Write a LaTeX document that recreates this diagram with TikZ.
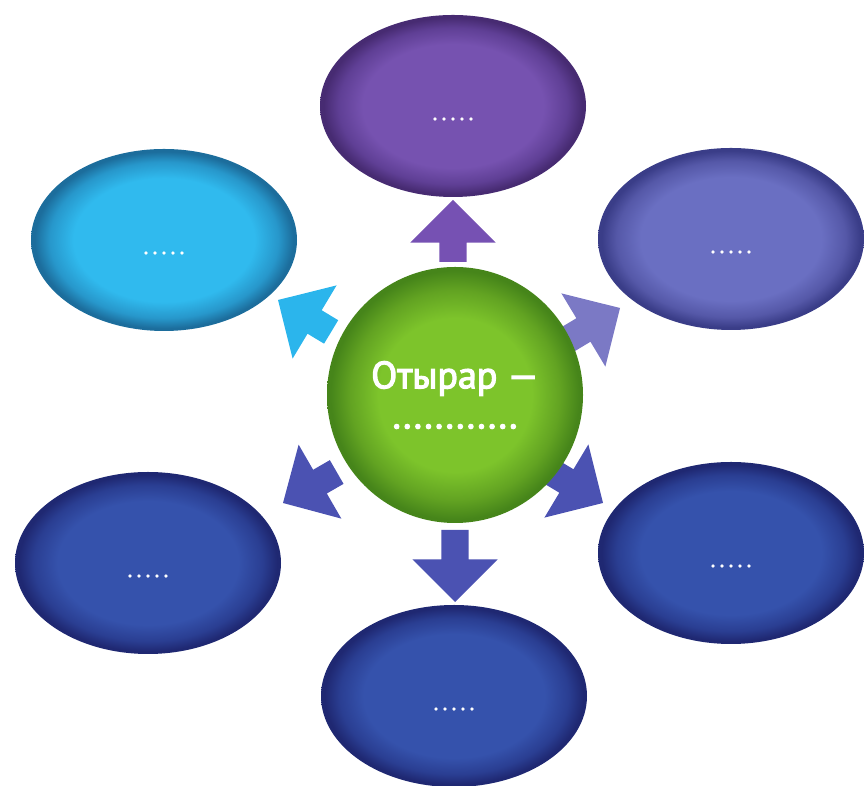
\documentclass[tikz,border=0pt]{standalone}
\usepackage{fontspec}
\setmainfont{PT Sans}
\usetikzlibrary{shapes.geometric,shapes.arrows}

\definecolor{cyanM}{HTML}{30BAEE}
\definecolor{cyanH}{HTML}{2797CB}
\definecolor{cyanD}{HTML}{1C6D9C}
\definecolor{purpM}{HTML}{7652B0}
\definecolor{purpH}{HTML}{5F3F95}
\definecolor{purpD}{HTML}{472B72}
\definecolor{lavM}{HTML}{6A6FC2}
\definecolor{lavH}{HTML}{5558A8}
\definecolor{lavD}{HTML}{3A3D88}
\definecolor{bluM}{HTML}{3552AC}
\definecolor{bluH}{HTML}{2A3E92}
\definecolor{bluD}{HTML}{1F2872}
\definecolor{grnM}{HTML}{7DC42B}
\definecolor{grnH}{HTML}{62A322}
\definecolor{grnD}{HTML}{46851A}
\definecolor{arrPurp}{HTML}{7651B3}
\definecolor{arrCyan}{HTML}{2BB5EC}
\definecolor{arrLav}{HTML}{7B79C5}
\definecolor{arrBlue}{HTML}{4B52B2}

\pgfdeclareradialshading{shcyan}{\pgfpoint{0bp}{0bp}}{color(0bp)=(cyanM); color(17bp)=(cyanM); color(21.5bp)=(cyanH); color(24.3bp)=(cyanD); color(50bp)=(cyanD)}
\pgfdeclareradialshading{shpurp}{\pgfpoint{0bp}{0bp}}{color(0bp)=(purpM); color(17bp)=(purpM); color(21.5bp)=(purpH); color(24.3bp)=(purpD); color(50bp)=(purpD)}
\pgfdeclareradialshading{shlav}{\pgfpoint{0bp}{0bp}}{color(0bp)=(lavM); color(17bp)=(lavM); color(21.5bp)=(lavH); color(24.3bp)=(lavD); color(50bp)=(lavD)}
\pgfdeclareradialshading{shblue}{\pgfpoint{0bp}{0bp}}{color(0bp)=(bluM); color(17bp)=(bluM); color(21.5bp)=(bluH); color(24.3bp)=(bluD); color(50bp)=(bluD)}
\pgfdeclareradialshading{shgreen}{\pgfpoint{0bp}{0bp}}{color(0bp)=(grnM); color(15bp)=(grnM); color(20.5bp)=(grnH); color(24.3bp)=(grnD); color(50bp)=(grnD)}

\newcommand\fivedots{.\kern4.5pt.\kern4.5pt.\kern4.5pt.\kern4.5pt.}

\begin{document}
\begin{tikzpicture}[x=1pt,y=1pt,
  bubble/.style={ellipse, inner sep=0pt, outer sep=0pt, minimum width=266pt,
    minimum height=182pt, text=white, font=\fontsize{21}{21}\selectfont\addfontfeature{FakeBold=3},
    text height=28pt, text depth=0pt, shade, shading=#1},
  hub/.style={circle, inner sep=0pt, outer sep=0pt, minimum size=256pt,
    text=white, font=\fontsize{38}{40}\selectfont\addfontfeature{FakeBold=3}, align=center, shade, shading=shgreen},
  blockarrow/.style={single arrow, single arrow head extend=29pt, inner xsep=0pt,
    inner ysep=13.5pt, minimum height=#1, outer sep=0pt, anchor=tip, draw=none}
]
\useasboundingbox (0,0) rectangle (864,786);

% arrows
\node[blockarrow=62pt, fill=arrPurp, rotate=90]  (aup)  at (453,586) {};
\node[blockarrow=62pt, fill=arrCyan, rotate=149] (atl)  at (278,486) {};
\node[blockarrow=62pt, fill=arrLav,  rotate=31]  (atr)  at (620,478) {};
\node[blockarrow=62pt, fill=arrBlue, rotate=210] (abl)  at (283,283) {};
\node[blockarrow=62pt, fill=arrBlue, rotate=-31] (abr)  at (603,283) {};
\node[blockarrow=72pt, fill=arrBlue, rotate=-90] (adn)  at (455,184) {};

% ellipses
\node[bubble=shpurp] (top) at (453,680) {\fivedots};
\node[bubble=shcyan] (tl)  at (164,546) {\fivedots};
\node[bubble=shlav]  (tr)  at (731,547) {\fivedots};
\node[bubble=shblue] (bl)  at (148,223) {\fivedots};
\node[bubble=shblue] (br)  at (731,233) {\fivedots};
\node[bubble=shblue] (bot) at (454,90)  {\fivedots};

% hub
\node[hub] (c) at (455,391) {Отырар —\\............};
\end{tikzpicture}
\end{document}
